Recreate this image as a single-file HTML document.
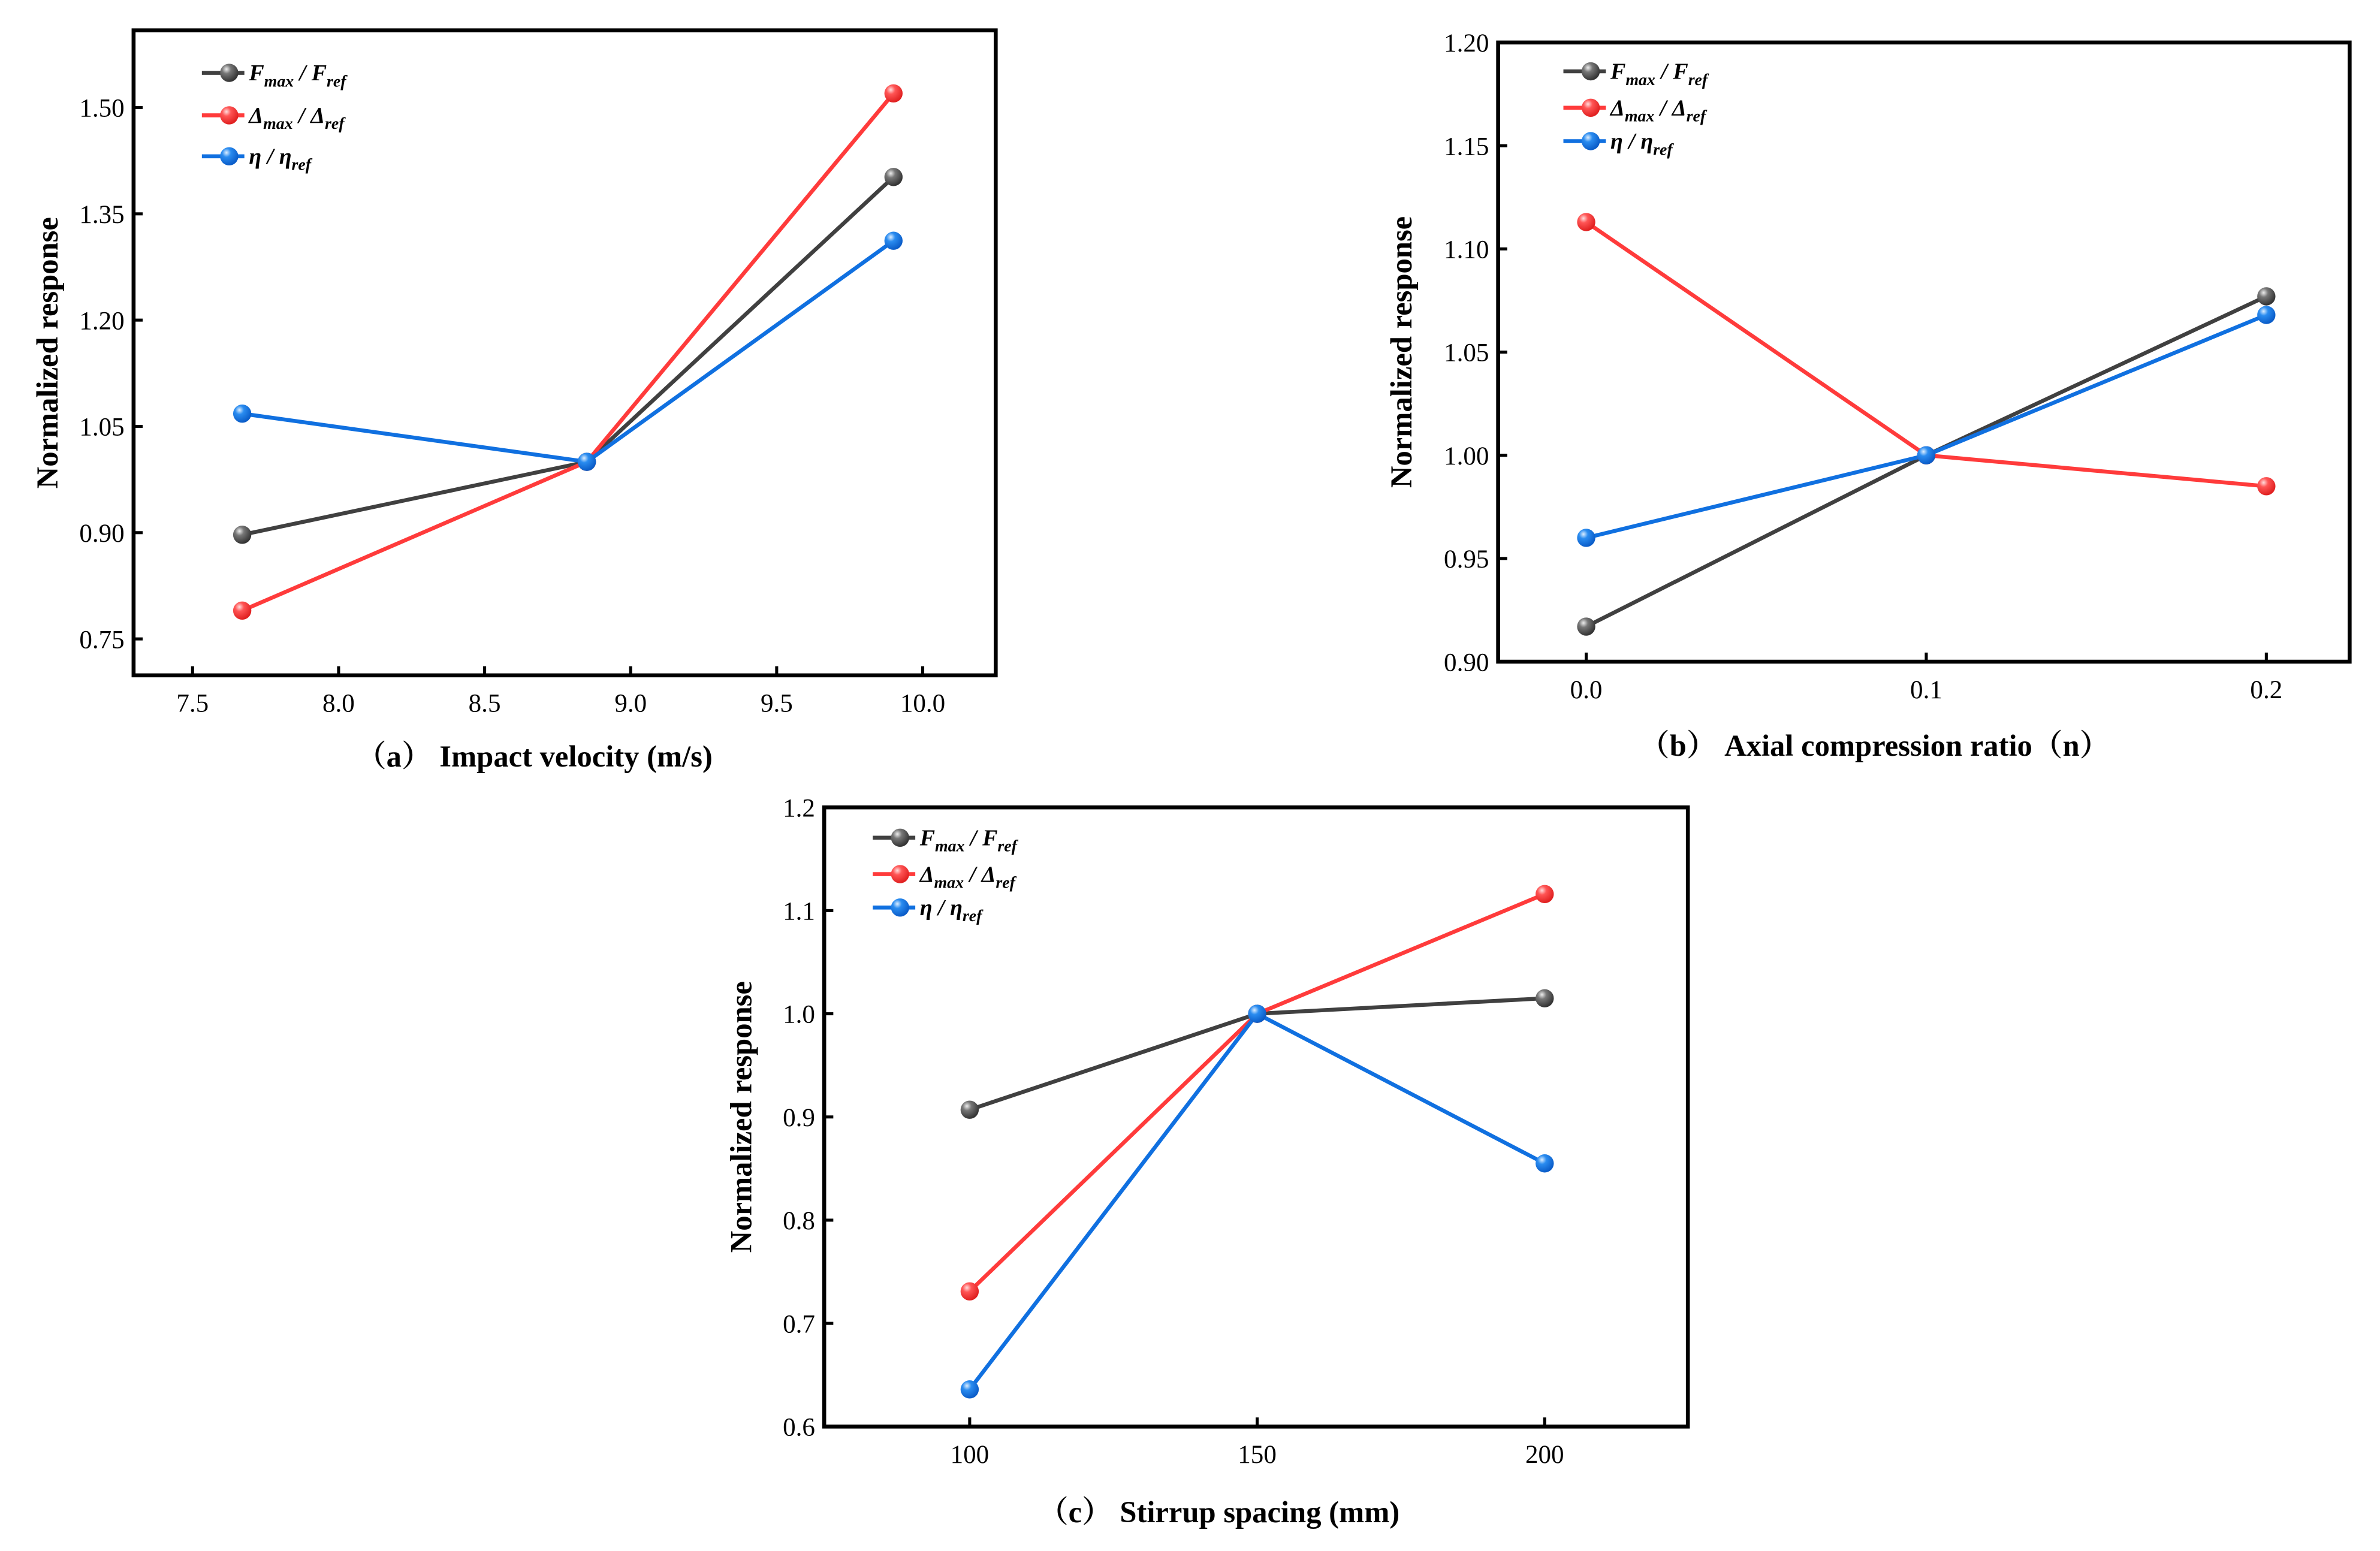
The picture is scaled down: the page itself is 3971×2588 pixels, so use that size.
<!DOCTYPE html>
<html><head><meta charset="utf-8"><style>
html,body{margin:0;padding:0;background:#fff;}
svg{display:block;}
text{font-family:"Liberation Serif","Noto Serif CJK SC",serif;}
</style></head><body>
<svg id="fig" width="3971" height="2588" viewBox="0 0 1568 1022" preserveAspectRatio="none" xmlns="http://www.w3.org/2000/svg">
<defs>
<radialGradient id="gk" cx="0.35" cy="0.3" r="0.7"><stop offset="0" stop-color="#eee"/><stop offset="0.35" stop-color="#777"/><stop offset="1" stop-color="#333"/></radialGradient>
<radialGradient id="gr" cx="0.35" cy="0.3" r="0.7"><stop offset="0" stop-color="#fdd"/><stop offset="0.35" stop-color="#ff5555"/><stop offset="1" stop-color="#e02020"/></radialGradient>
<radialGradient id="gb" cx="0.35" cy="0.3" r="0.7"><stop offset="0" stop-color="#def"/><stop offset="0.35" stop-color="#2a8cf0"/><stop offset="1" stop-color="#0a5cc8"/></radialGradient>
</defs>
</svg>
<script>
// Panel (a)
const aX = [7.67, 8.85, 9.9];
const aF = [0.897, 1.0, 1.402];
const aD = [0.79, 1.0, 1.52];
const aE = [1.068, 1.0, 1.312];
const aXTicks = [7.5, 8.0, 8.5, 9.0, 9.5, 10.0];
const aYTicks = [0.75, 0.90, 1.05, 1.20, 1.35, 1.50];
// Panel (b)
const bX = [0.0, 0.1, 0.2];
const bF = [0.917, 1.0, 1.077];
const bD = [1.113, 1.0, 0.985];
const bE = [0.96, 1.0, 1.068];
const bXTicks = [0.0, 0.1, 0.2];
const bYTicks = [0.90, 0.95, 1.00, 1.05, 1.10, 1.15, 1.20];
// Panel (c)
const cX = [100, 150, 200];
const cF = [0.907, 1.0, 1.015];
const cD = [0.731, 1.0, 1.116];
const cE = [0.636, 1.0, 0.855];
const cXTicks = [100, 150, 200];
const cYTicks = [0.6, 0.7, 0.8, 0.9, 1.0, 1.1, 1.2];

const NS = "http://www.w3.org/2000/svg";
const svg = document.getElementById('fig');
function mk(tag, attrs, parent) {
  const e = document.createElementNS(NS, tag);
  for (const k in attrs) e.setAttribute(k, attrs[k]);
  (parent || svg).appendChild(e);
  return e;
}
const COLORS = {F: ['#404040', 'url(#gk)'], D: ['#ff3b3b', 'url(#gr)'], E: ['#1070e0', 'url(#gb)']};

function panel(cfg) {
  const g = mk('g', {});
  
  
  const {L, R, T, B, xmin, xmax, ymin, ymax} = cfg;
  const sx = v => L + (v - xmin) / (xmax - xmin) * (R - L);
  const sy = v => B - (v - ymin) / (ymax - ymin) * (B - T);
  const frame = mk('rect', {x: L, y: T, width: R - L, height: B - T, fill: 'none', stroke: '#000', 'stroke-width': 2.6}, g);
  
  
  cfg.xt.forEach(v => {
    const x = sx(v);
    mk('line', {x1: x, x2: x, y1: B, y2: B - 6, stroke: '#000', 'stroke-width': 2}, g);
    const t = mk('text', {x: x, y: B + 24, 'text-anchor': 'middle', 'font-size': 17}, g);
    t.textContent = cfg.xfmt(v);
    
    
  });
  cfg.yt.forEach(v => {
    const y = sy(v);
    mk('line', {x1: L, x2: L + 6, y1: y, y2: y, stroke: '#000', 'stroke-width': 2}, g);
    const t = mk('text', {x: L - 6, y: y + 6, 'text-anchor': 'end', 'font-size': 17}, g);
    t.textContent = cfg.yfmt(v);
    
    
  });
  const series = [['F', cfg.F], ['D', cfg.D], ['E', cfg.E]];
  series.forEach(([k, vals]) => {
    const pts = cfg.x.map((xv, i) => sx(xv) + ',' + sy(vals[i])).join(' ');
    const pl = mk('polyline', {points: pts, fill: 'none', stroke: COLORS[k][0], 'stroke-width': 2.6}, g);
    
    
  });
  series.forEach(([k, vals]) => {
    cfg.x.forEach((xv, i) => {
      const c = mk('circle', {cx: sx(xv), cy: sy(vals[i]), r: 6, fill: COLORS[k][1]}, g);
      
      
    });
  });
  const labels = {
    F: ['F', 'max', ' / F', 'ref'],
    D: ['Δ', 'max', ' / Δ', 'ref'],
    E: ['η', '', cfg.etaSp ? '  / η' : ' / η', 'ref']
  };
  ['F', 'D', 'E'].forEach((k, i) => {
    const y = cfg.legY[i];
    const lg = mk('g', {}, g);
    
    
    mk('line', {x1: cfg.legX, x2: cfg.legX + 28, y1: y, y2: y, stroke: COLORS[k][0], 'stroke-width': 2.6}, lg);
    mk('circle', {cx: cfg.legX + 18, cy: y, r: 6, fill: COLORS[k][1]}, lg);
    const t = mk('text', {x: cfg.legX + 31, y: y + 5, 'font-size': 15, 'font-style': 'italic', 'font-weight': 'bold'}, lg);
    const lb = labels[k];
    const s1 = mk('tspan', {}, t); s1.textContent = lb[0];
    if (lb[1]) { const s2 = mk('tspan', {dy: 4, 'font-size': 11}, t); s2.textContent = lb[1]; }
    const s3 = mk('tspan', {dy: lb[1] ? -4 : 0}, t); s3.textContent = lb[2];
    const s4 = mk('tspan', {dy: 4, 'font-size': 11}, t); s4.textContent = lb[3];
  });
  const yl = mk('text', {x: 0, y: 0, 'text-anchor': 'middle', 'font-size': 20, 'font-weight': 'bold', transform: `translate(${cfg.ylx},${(T + B) / 2}) rotate(-90)`}, g);
  yl.textContent = 'Normalized response';
  
  
  const xl = mk('text', {x: cfg.xlx, y: cfg.xly, 'text-anchor': 'middle', 'font-size': 20, 'font-weight': 'bold'}, g);
  xl.textContent = cfg.xlabel;
  
  
}

panel({name: 'panel-a', L: 88, R: 656, T: 20, B: 445, xmin: 7.298, xmax: 10.25, ymin: 0.6986, ymax: 1.609,
  x: aX, F: aF, D: aD, E: aE, xt: aXTicks, yt: aYTicks, xfmt: v => v.toFixed(1), yfmt: v => v.toFixed(2),
  legX: 133, legY: [48, 76, 103], etaSp: true, ylx: 38, xlx: 352, xly: 505,
  xlabel: '（a） Impact velocity (m/s)'});
panel({name: 'panel-b', L: 987, R: 1548, T: 28, B: 436, xmin: -0.0259, xmax: 0.2245, ymin: 0.90, ymax: 1.20,
  x: bX, F: bF, D: bD, E: bE, xt: bXTicks, yt: bYTicks, xfmt: v => v.toFixed(1), yfmt: v => v.toFixed(2),
  legX: 1030, legY: [47, 71, 93], etaSp: false, ylx: 930, xlx: 1235, xly: 498,
  xlabel: '（b）  Axial compression ratio（n）'});
panel({name: 'panel-c', L: 543, R: 1112, T: 532, B: 940, xmin: 74.7, xmax: 224.9, ymin: 0.6, ymax: 1.2,
  x: cX, F: cF, D: cD, E: cE, xt: cXTicks, yt: cYTicks, xfmt: v => String(v), yfmt: v => v.toFixed(1),
  legX: 575, legY: [552, 576, 598], etaSp: false, ylx: 495, xlx: 803, xly: 1003,
  xlabel: '（c） Stirrup spacing (mm)'});
</script>
</body></html>
